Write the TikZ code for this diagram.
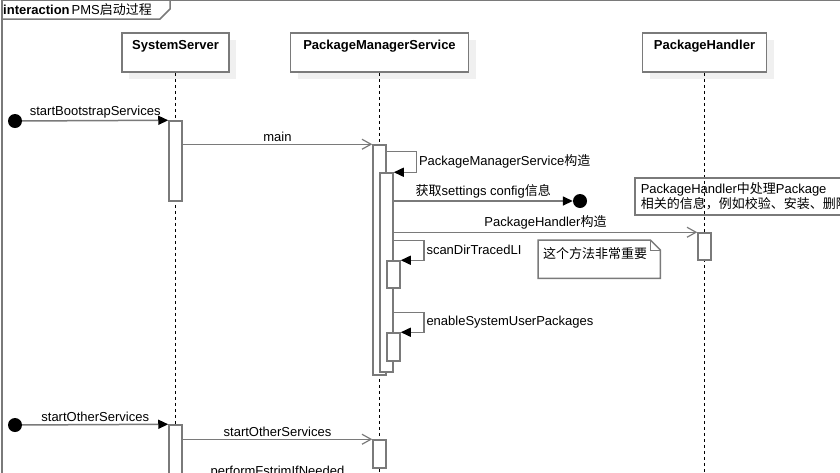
\documentclass[tikz,border=0pt]{standalone}
\usepackage{fontspec}
\setmainfont{Liberation Sans}
\newfontfamily\cjk{Noto Sans CJK SC}
\usepackage{tikz}
\usetikzlibrary{arrows.meta, positioning, shadows}
\definecolor{umlgray}{RGB}{122,122,122}
\definecolor{umlshade}{RGB}{240,240,240}
\newcommand{\umlsize}{\fontsize{13pt}{15pt}\selectfont}

\begin{document}
\begin{tikzpicture}[x=1pt, y=-1pt, font=\umlsize,
  frame/.style={draw=umlgray, line width=1.5pt},
  lifehead/.style={draw=umlgray, line width=1.5pt, fill=white, font=\umlsize\bfseries,
    minimum width=#1, inner xsep=0pt, inner ysep=3pt, text height=13pt, text depth=20pt,
    drop shadow={fill=umlshade, draw=none, opacity=1, shadow xshift=7pt, shadow yshift=-7pt}},
  lifeline/.style={draw=black, line width=1pt, dash pattern=on 3pt off 3pt},
  actbar/.style={draw=umlgray, line width=1.5pt, fill=white, minimum width=13pt,
    minimum height=#1, inner sep=0pt},
  call/.style={draw=umlgray, line width=1.5pt, -{Straight Barb[length=9pt, width=10pt, line width=1.2pt]}},
  sync/.style={draw=umlgray, line width=1.5pt, -{Triangle[length=10pt, width=9pt, color=black]}},
  endpt/.style={circle, fill=black, minimum size=14pt, inner sep=0pt},
  msglabel/.style={inner sep=2pt}]

  \useasboundingbox (0,0) rectangle (840,472);
  \draw[frame] (2,0) rectangle (900,560);
  \draw[frame] (2,19) -- (160,19) -- (170,9) -- (170,0);
  \node[anchor=west, inner sep=1pt] (title) at (2,9.5) {\textbf{interaction}\hspace{2pt}PMS{\cjk 启动过程}};

  \node[lifehead=107pt] (ss) at (175.5,52.5) {SystemServer};
  \node[lifehead=178pt] (pms) at (379.5,52.5) {PackageManagerService};
  \node[lifehead=124pt] (ph) at (704.5,52.5) {PackageHandler};
  \foreach \h in {ss, pms, ph}
    \draw[lifeline] (\h.south) -- ++(0,440);

  \node[actbar=80pt] (ss1) at (175.5,161) {};
  \node[actbar=65pt] (ss2) at (175.5,457.5) {};
  \node[actbar=230pt] (pms1) at (379.5,260) {};
  \node[actbar=199pt] (pms2) at (386.5,272.5) {};
  \node[actbar=27pt] (act3) at (393.5,274.5) {};
  \node[actbar=28pt] (act4) at (393.5,347) {};
  \node[actbar=27pt] (ph1) at (704.5,246.5) {};
  \node[actbar=28pt] (pms3) at (379.5,454) {};
  \node[actbar=20pt] (pms4) at (379.5,492) {};

  \node[endpt] (f1) at (15,121) {};
  \node[endpt] (f2) at (15,425) {};
  \node[endpt] (d1) at (580,201) {};

  \draw[sync] (f1) -- node[msglabel, above] (m1) {startBootstrapServices} (ss1.north west);
  \draw[call] (ss1.east |- pms1.north) -- node[msglabel, above] (m2) {main} (pms1.north west);
  \draw[sync] ([yshift=-7pt]pms1.north east) -- ++(29.5,0)
    |- node[msglabel, pos=0.25, right] (m3) {PackageManagerService{\cjk 构造}} (pms2.north east);
  \draw[sync] (pms2.east |- d1) -- node[msglabel, above] (m4) {{\cjk 获取}settings config{\cjk 信息}} (d1);
  \draw[call] (pms2.east |- ph1.north) -- node[msglabel, above] (m5) {PackageHandler{\cjk 构造}} (ph1.north west);
  \draw[sync] ([yshift=20pt]act3.north -| pms2.east) -- ++(30,0)
    |- node[msglabel, pos=0.25, right] (m6) {scanDirTracedLI} (act3.north east);
  \draw[sync] ([yshift=20pt]act4.north -| pms2.east) -- ++(30,0)
    |- node[msglabel, pos=0.25, right] (m7) {enableSystemUserPackages} (act4.north east);
  \draw[sync] (f2) -- node[msglabel, above] (m8) {startOtherServices} (ss2.north west);
  \draw[call] (ss2.east |- pms3.north) -- node[msglabel, above] (m9) {startOtherServices} (pms3.north west);
  \draw[call] (ss2.east |- pms4.north) -- node[msglabel, above] (m10) {performFstrimIfNeeded} (pms4.north west);

  \node[anchor=north west, align=left, text width=112pt, inner xsep=5pt, inner ysep=3pt,
    text height=15pt, text depth=17pt] (note1) at (538,240) {{\cjk 这个方法非常重要}};
  \draw[frame] (note1.north west) -- ([xshift=-10pt]note1.north east) -- ([yshift=-10pt]note1.north east)
    -- (note1.south east) -- (note1.south west) -- cycle;
  \draw[frame, line width=1pt] ([xshift=-10pt]note1.north east) -- ([xshift=-10pt, yshift=-10pt]note1.north east)
    -- ([yshift=-10pt]note1.north east);
  \node[frame, anchor=north west, align=left, inner xsep=6pt, inner ysep=3pt, minimum height=37pt,
    font=\fontsize{13pt}{12.5pt}\selectfont] (note2) at (634,177)
    {PackageHandler{\cjk 中处理}Package\\{\cjk 相关的信息，例如校验、安装、删除}};
\end{tikzpicture}
\end{document}
